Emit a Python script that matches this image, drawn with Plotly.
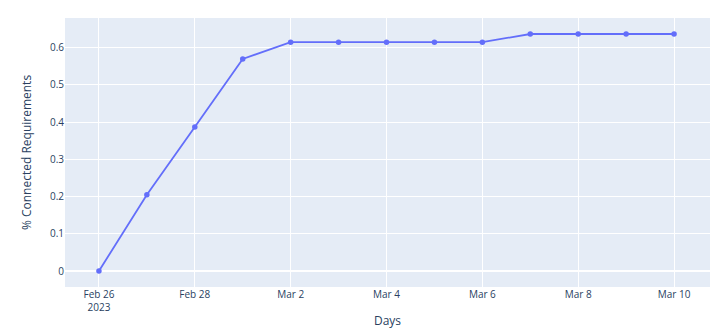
import plotly.graph_objects as go

days = ["2023-02-26", "2023-02-27", "2023-02-28", "2023-03-01", "2023-03-02",
        "2023-03-03", "2023-03-04", "2023-03-05", "2023-03-06", "2023-03-07",
        "2023-03-08", "2023-03-09", "2023-03-10"]
connected = [0.0, 0.205, 0.387, 0.570, 0.615, 0.615, 0.615, 0.615, 0.615,
             0.637, 0.637, 0.637, 0.637]

fig = go.Figure()
fig.add_trace(go.Scatter(x=days, y=connected, mode="lines+markers",
                         line=dict(color="#636efa", width=1.8),
                         marker=dict(size=5.5, color="#636efa")))
fig.update_layout(
    template="plotly",
    width=726, height=329,
    margin=dict(l=65, r=16, t=18, b=42),
    font=dict(family="Open Sans, Arial, sans-serif", size=10, color="#2a3f5f"),
    xaxis=dict(title=dict(text="Days", font=dict(size=12)),
               automargin=False,
               range=["2023-02-25 07:00", "2023-03-10 18:00"],
               dtick=2 * 86400000, tick0="2023-02-26"),
    yaxis=dict(title=dict(text="% Connected Requirements", font=dict(size=12)),
               automargin=False,
               range=[-0.043, 0.68], dtick=0.1),
    showlegend=False,
)
fig.write_html("out.html")
